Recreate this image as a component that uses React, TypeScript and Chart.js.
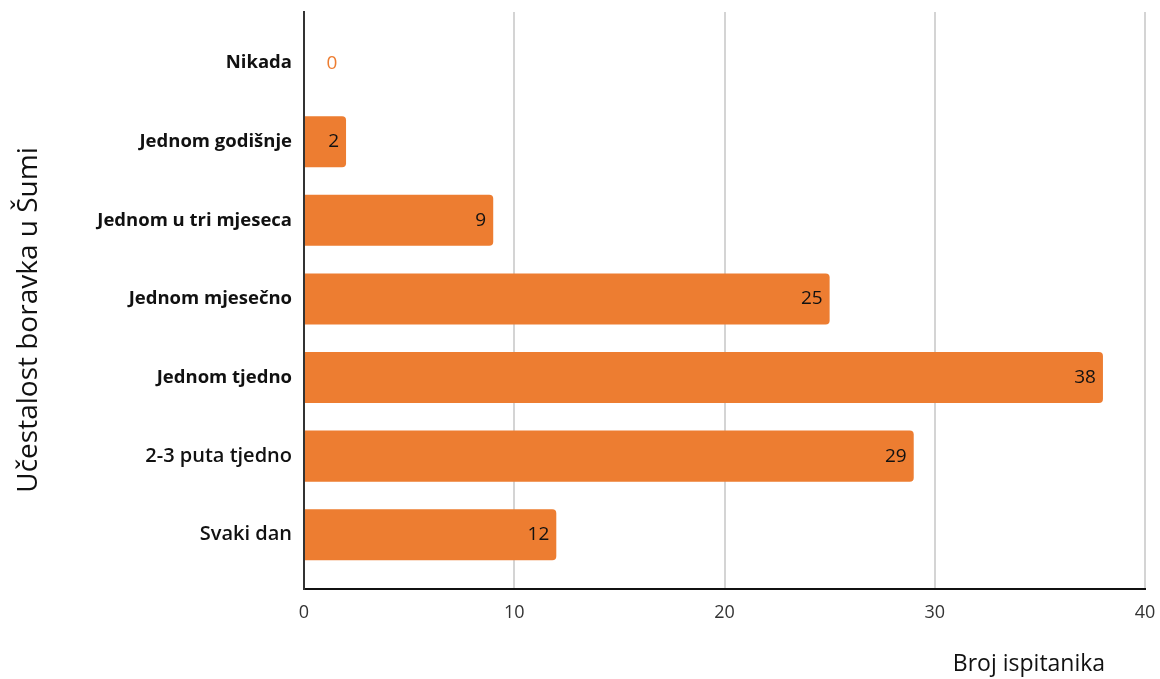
import React, { useEffect, useRef } from "react";
import { Chart, registerables } from "chart.js";

Chart.register(...registerables);

const categories = [
  "Nikada",
  "Jednom godišnje",
  "Jednom u tri mjeseca",
  "Jednom mjesečno",
  "Jednom tjedno",
  "2-3 puta tjedno",
  "Svaki dan",
];
const counts = [0, 2, 9, 25, 38, 29, 12];
const xTicks = [0, 10, 20, 30, 40];
const xTitle = "Broj ispitanika";
const yTitle = "Učestalost boravka u Šumi";

const FONT = "'Open Sans', 'DejaVu Sans', sans-serif";
const ORANGE = "#ED7D31";
const labelWeight = ["bold", "bold", "bold", "bold", "bold", "600", "600"];
const labelSize = [18.5, 18.5, 18.5, 18.5, 18.5, 20, 20];

const labelsPlugin = {
  id: "valueLabels",
  afterDatasetsDraw(chart: any) {
    const ctx = chart.ctx;
    const meta = chart.getDatasetMeta(0);
    ctx.save();
    ctx.font = `19px ${FONT}`;
    ctx.textBaseline = "middle";
    meta.data.forEach((el: any, i: number) => {
      const v = counts[i];
      if (v > 0) {
        ctx.fillStyle = "#111";
        ctx.textAlign = "right";
        ctx.fillText(String(v), el.x - 7, el.y);
      } else {
        ctx.fillStyle = ORANGE;
        ctx.textAlign = "center";
        ctx.fillText(String(v), el.base + 28, el.y);
      }
    });
    ctx.restore();
  },
};

const titlesPlugin = {
  id: "axisTitles",
  afterDraw(chart: any) {
    const ctx = chart.ctx;
    ctx.save();
    ctx.fillStyle = "#111";
    ctx.textBaseline = "middle";
    ctx.textAlign = "center";
    ctx.font = `23px ${FONT}`;
    ctx.fillText(xTitle, 1029, 664);
    ctx.translate(29, 320);
    ctx.rotate(-Math.PI / 2);
    ctx.font = `28px ${FONT}`;
    ctx.fillText(yTitle, 0, 0);
    ctx.restore();
  },
};

export default function App() {
  const ref = useRef<HTMLCanvasElement | null>(null);
  useEffect(() => {
    if (!ref.current) return;
    const chart = new Chart(ref.current, {
      type: "bar",
      data: {
        datasets: [
          {
            data: counts.map((v, i) => ({ x: v, y: i })),
            backgroundColor: ORANGE,
            borderWidth: 0,
            borderRadius: 4,
            borderSkipped: "start",
            barPercentage: 0.65,
            categoryPercentage: 1,
          },
        ],
      },
      options: {
        indexAxis: "y",
        animation: false,
        responsive: true,
        maintainAspectRatio: false,
        layout: { padding: { top: 12, right: 15, bottom: 0, left: 0 } },
        plugins: {
          legend: { display: false },
          tooltip: { enabled: false },
        },
        scales: {
          x: {
            type: "linear",
            position: "bottom",
            min: xTicks[0],
            max: xTicks[xTicks.length - 1],
            afterBuildTicks: (s: any) => {
              s.ticks = xTicks.map((v) => ({ value: v }));
            },
            afterFit: (s: any) => {
              s.height = 90;
              s.paddingLeft = 0;
              s.paddingRight = 0;
            },
            grid: { color: "#d4d4d4", lineWidth: 2, drawTicks: false },
            border: { display: true, color: "#111", width: 2 },
            ticks: {
              padding: 13,
              color: "#333",
              font: { family: FONT, size: 18 },
            },
          },
          y: {
            type: "linear",
            reverse: true,
            offset: false,
            min: -0.65,
            max: 6.69,
            afterBuildTicks: (s: any) => {
              s.ticks = categories.map((_, i) => ({ value: i }));
            },
            afterFit: (s: any) => {
              s.width = 304;
              s.paddingTop = 0;
              s.paddingBottom = 0;
            },
            grid: { display: false, drawTicks: false, offset: false },
            border: { display: true, color: "#333", width: 2 },
            ticks: {
              padding: 12,
              color: "#111",
              callback: (v: any) => categories[v as number] ?? "",
              font: (c: any) => ({
                family: FONT,
                size: labelSize[c.index],
                weight: labelWeight[c.index],
              }),
            },
          },
        },
      },
      plugins: [labelsPlugin, titlesPlugin],
    } as any);
    return () => chart.destroy();
  }, []);
  return (
    <div
      style={{
        position: "fixed",
        left: 0,
        top: 0,
        width: 1160,
        height: 679,
        background: "#fff",
      }}
    >
      <canvas ref={ref} />
    </div>
  );
}
